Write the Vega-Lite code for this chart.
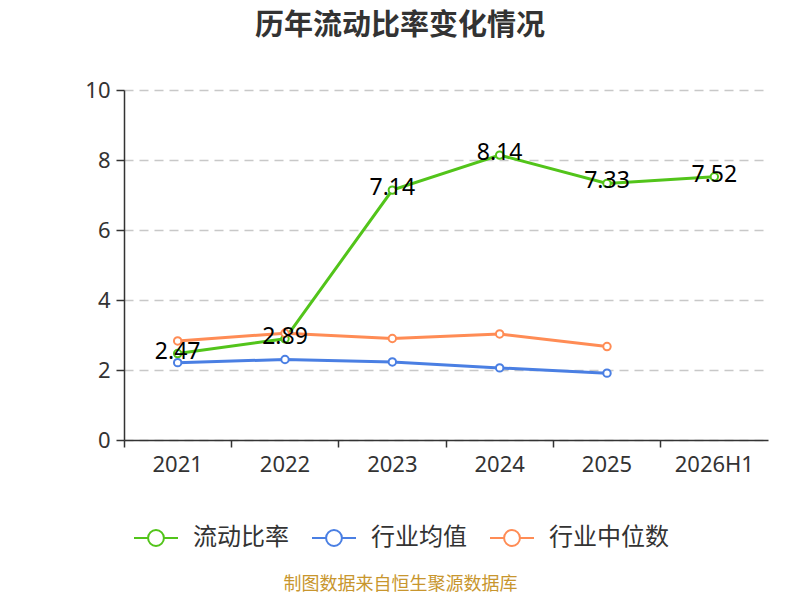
{
  "$schema": "https://vega.github.io/schema/vega-lite/v6.json",
  "autosize": "none",
  "width": 644,
  "height": 350,
  "padding": {"left": 124, "top": 90, "right": 32, "bottom": 160},
  "background": "white",
  "config": {"view": {"stroke": null}},
  "title": {
    "text": "历年流动比率变化情况",
    "fontSize": 29,
    "fontWeight": "bold",
    "color": "#333333",
    "font": "Noto Sans CJK SC",
    "anchor": "middle",
    "offset": 38,
    "dx": -46
  },
  "data": {
    "values": [
      {"year": "2021", "series": "流动比率", "value": 2.47},
      {"year": "2022", "series": "流动比率", "value": 2.89},
      {"year": "2023", "series": "流动比率", "value": 7.14},
      {"year": "2024", "series": "流动比率", "value": 8.14},
      {"year": "2025", "series": "流动比率", "value": 7.33},
      {"year": "2026H1", "series": "流动比率", "value": 7.52},
      {"year": "2021", "series": "行业均值", "value": 2.21},
      {"year": "2022", "series": "行业均值", "value": 2.3},
      {"year": "2023", "series": "行业均值", "value": 2.23},
      {"year": "2024", "series": "行业均值", "value": 2.06},
      {"year": "2025", "series": "行业均值", "value": 1.91},
      {"year": "2021", "series": "行业中位数", "value": 2.83},
      {"year": "2022", "series": "行业中位数", "value": 3.05},
      {"year": "2023", "series": "行业中位数", "value": 2.9},
      {"year": "2024", "series": "行业中位数", "value": 3.03},
      {"year": "2025", "series": "行业中位数", "value": 2.67}
    ]
  },
  "encoding": {
    "x": {
      "field": "year",
      "type": "ordinal",
      "sort": null,
      "scale": {"type": "band", "paddingInner": 0, "paddingOuter": 0},
      "axis": {
        "title": "制图数据来自恒生聚源数据库",
        "titleColor": "#c8962e",
        "titleFontSize": 18,
        "titleFontWeight": "normal",
        "titleFont": "Noto Sans CJK SC",
        "titleX": 276,
        "titleAlign": "center",
        "titlePadding": 100,
        "labelAngle": 0,
        "labelFontSize": 22,
        "labelColor": "#333333",
        "labelFont": "Noto Sans",
        "labelPadding": 7,
        "bandPosition": 0,
        "tickSize": 7,
        "tickColor": "#333333",
        "domainColor": "#333333",
        "domainWidth": 1.5,
        "tickWidth": 1.5,
        "grid": false
      }
    },
    "y": {
      "field": "value",
      "type": "quantitative",
      "scale": {"domain": [0, 10]},
      "axis": {
        "title": null,
        "values": [0, 2, 4, 6, 8, 10],
        "labelFontSize": 22,
        "labelColor": "#333333",
        "labelFont": "Noto Sans",
        "labelPadding": 6,
        "tickSize": 8,
        "tickColor": "#333333",
        "domainColor": "#333333",
        "domainWidth": 1.5,
        "tickWidth": 1.5,
        "grid": true,
        "gridColor": "#c8c8c8",
        "gridDash": [9, 6],
        "gridWidth": 1.3
      }
    },
    "color": {
      "field": "series",
      "type": "nominal",
      "sort": ["流动比率", "行业均值", "行业中位数"],
      "scale": {
        "domain": ["流动比率", "行业均值", "行业中位数"],
        "range": ["#52c41a", "#4a7fe3", "#ff8c55"]
      },
      "legend": {
        "title": null,
        "orient": "none",
        "direction": "horizontal",
        "legendX": 9,
        "legendY": 425,
        "labelFontSize": 24,
        "labelColor": "#333333",
        "labelFont": "Noto Sans CJK SC",
        "labelOffset": 14,
        "columnPadding": 19,
        "symbolType": "M-1,0L-0.36,0M0.36,0L1,0M0.36,0A0.36,0.36 0 1,1 -0.36,0A0.36,0.36 0 1,1 0.36,0",
        "symbolSize": 1936,
        "symbolStrokeWidth": 2,
        "symbolFillColor": "white"
      }
    }
  },
  "layer": [
    {
      "mark": {"type": "line", "strokeWidth": 3}
    },
    {
      "mark": {"type": "point", "filled": false, "fill": "white", "fillOpacity": 1, "size": 55, "strokeWidth": 2, "opacity": 1}
    },
    {
      "transform": [{"filter": "datum.series === '流动比率'"}],
      "mark": {"type": "text", "fontSize": 23, "font": "Noto Sans", "color": "black", "dy": -2, "baseline": "middle"},
      "encoding": {
        "text": {"field": "value", "type": "quantitative", "format": ".2f"},
        "color": {"value": "black"}
      }
    }
  ]
}
